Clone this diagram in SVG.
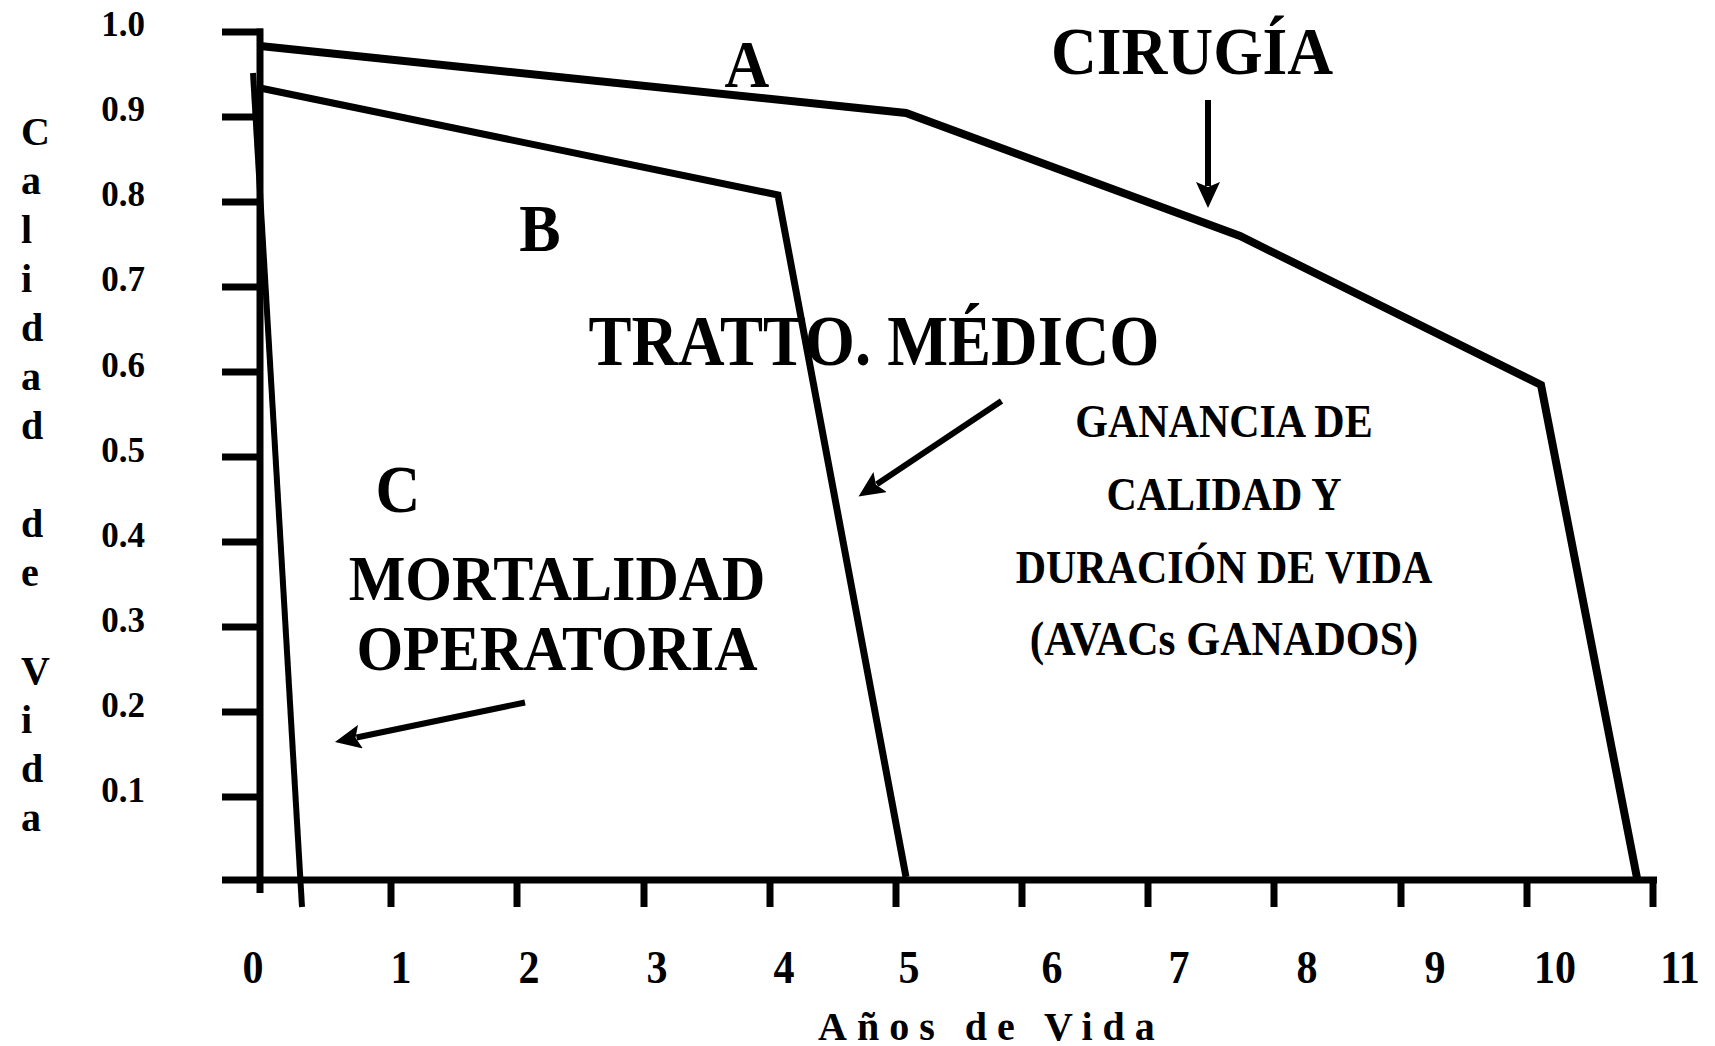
<svg xmlns="http://www.w3.org/2000/svg" width="1715" height="1046" viewBox="0 0 1715 1046">
<style>
text{font-family:"Liberation Serif","Times New Roman",serif;font-weight:bold;fill:#000}
.ax{stroke:#000;stroke-width:7;fill:none;stroke-linecap:butt}
.cv{stroke:#000;fill:none;stroke-linejoin:miter}
.arr{stroke:#000;stroke-width:6;fill:none}
.yl{font-size:35px;text-anchor:end}
.xl{font-size:42px;text-anchor:middle}
.big{font-size:62px;text-anchor:middle}
.mid{font-size:60px;text-anchor:middle}
.sm{font-size:42px;text-anchor:middle}
</style>
<defs>
<marker id="ah" markerUnits="userSpaceOnUse" viewBox="0 0 26 24" refX="4" refY="12" markerWidth="26" markerHeight="24" orient="auto">
<path d="M0,0 L26,12 L0,24 L5,12 z" fill="#000"/>
</marker>
</defs>
<g id="axes">
<line class="ax" x1="260" y1="28.5" x2="260" y2="893"/>
<line class="ax" x1="222" y1="880" x2="1657" y2="880"/>
<g id="yticks">
<line class="ax" x1="222" y1="32" x2="263" y2="32"/>
<line class="ax" x1="222" y1="117" x2="260" y2="117"/>
<line class="ax" x1="222" y1="202" x2="260" y2="202"/>
<line class="ax" x1="222" y1="287" x2="260" y2="287"/>
<line class="ax" x1="222" y1="372" x2="260" y2="372"/>
<line class="ax" x1="222" y1="457" x2="260" y2="457"/>
<line class="ax" x1="222" y1="542" x2="260" y2="542"/>
<line class="ax" x1="222" y1="627" x2="260" y2="627"/>
<line class="ax" x1="222" y1="712" x2="260" y2="712"/>
<line class="ax" x1="222" y1="797" x2="260" y2="797"/>
</g>
<g id="xticks">
<line class="ax" x1="391" y1="880" x2="391" y2="907"/>
<line class="ax" x1="517" y1="880" x2="517" y2="907"/>
<line class="ax" x1="644" y1="880" x2="644" y2="907"/>
<line class="ax" x1="770" y1="880" x2="770" y2="907"/>
<line class="ax" x1="896" y1="880" x2="896" y2="907"/>
<line class="ax" x1="1022" y1="880" x2="1022" y2="907"/>
<line class="ax" x1="1148" y1="880" x2="1148" y2="907"/>
<line class="ax" x1="1274" y1="880" x2="1274" y2="907"/>
<line class="ax" x1="1401" y1="880" x2="1401" y2="907"/>
<line class="ax" x1="1527" y1="880" x2="1527" y2="907"/>
<line class="ax" x1="1653" y1="880" x2="1653" y2="907"/>
</g>
<g id="ylabels">
<text class="yl" x="145" y="36">1.0</text>
<text class="yl" x="145" y="121">0.9</text>
<text class="yl" x="145" y="206">0.8</text>
<text class="yl" x="145" y="291">0.7</text>
<text class="yl" x="145" y="377">0.6</text>
<text class="yl" x="145" y="462">0.5</text>
<text class="yl" x="145" y="547">0.4</text>
<text class="yl" x="145" y="632">0.3</text>
<text class="yl" x="145" y="717">0.2</text>
<text class="yl" x="145" y="802">0.1</text>
</g>
<g id="xlabels">
<text class="xl" transform="translate(253,983) scale(1,1.08)">0</text>
<text class="xl" transform="translate(401,983) scale(1,1.08)">1</text>
<text class="xl" transform="translate(529,983) scale(1,1.08)">2</text>
<text class="xl" transform="translate(657,983) scale(1,1.08)">3</text>
<text class="xl" transform="translate(784,983) scale(1,1.08)">4</text>
<text class="xl" transform="translate(909,983) scale(1,1.08)">5</text>
<text class="xl" transform="translate(1052,983) scale(1,1.08)">6</text>
<text class="xl" transform="translate(1179,983) scale(1,1.08)">7</text>
<text class="xl" transform="translate(1307,983) scale(1,1.08)">8</text>
<text class="xl" transform="translate(1435,983) scale(1,1.08)">9</text>
<text class="xl" transform="translate(1555,983) scale(1,1.08)">10</text>
<text class="xl" transform="translate(1680,983) scale(1,1.08)">11</text>
</g>
<text id="ytitle" style="font-size:40px"><tspan x="21" y="145">C</tspan><tspan x="21" y="194">a</tspan><tspan x="21" y="243">l</tspan><tspan x="21" y="292">i</tspan><tspan x="21" y="341">d</tspan><tspan x="21" y="390">a</tspan><tspan x="21" y="439">d</tspan><tspan x="21" y="537">d</tspan><tspan x="21" y="586">e</tspan><tspan x="21" y="684">V</tspan><tspan x="21" y="733">i</tspan><tspan x="21" y="782">d</tspan><tspan x="21" y="831">a</tspan></text>
<text id="xtitle" x="818" y="1040" style="font-size:40px;letter-spacing:10px">Años de Vida</text>
</g>
<g id="curve-A">
<polyline class="cv" stroke-width="8" points="260,46 906,113 1240,236 1541,385 1637,878"/>
<text class="big" transform="translate(747,87) scale(1,1.08)">A</text>
</g>
<g id="curve-B">
<polyline class="cv" stroke-width="7" points="260,88 778,195 906,877"/>
<text class="big" transform="translate(540,251) scale(1,1.08)">B</text>
</g>
<g id="curve-C">
<line class="cv" stroke-width="6" x1="253" y1="73" x2="302" y2="907"/>
<text class="big" transform="translate(398,512) scale(1,1.08)">C</text>
</g>
<g id="label-cirugia">
<text class="big" transform="translate(1192,74) scale(1,1.06)" style="font-size:63.5px">CIRUGÍA</text>
</g>
<g id="label-tratto">
<text class="big" transform="translate(874,365) scale(1,1.1)" style="font-size:64.5px">TRATTO. MÉDICO</text>
</g>
<g id="label-mortalidad">
<text class="mid" transform="translate(557,600) scale(1,1.06)">MORTALIDAD</text>
<text class="mid" transform="translate(557,670) scale(1,1.06)">OPERATORIA</text>
</g>
<g id="label-ganancia">
<text class="sm" transform="translate(1224,437) scale(1,1.1)">GANANCIA DE</text>
<text class="sm" transform="translate(1224,510) scale(1,1.1)">CALIDAD Y</text>
<text class="sm" transform="translate(1224,583) scale(1,1.1)">DURACIÓN DE VIDA</text>
<text class="sm" transform="translate(1224,655) scale(1,1.1)" style="font-size:43.5px">(AVACs GANADOS)</text>
</g>
<g id="connectors">
<line class="arr" x1="1208" y1="100" x2="1208" y2="186" marker-end="url(#ah)"/>
<line class="arr" x1="1001.5" y1="401" x2="876.8" y2="484.3" marker-end="url(#ah)"/>
<line class="arr" x1="525" y1="702.5" x2="356.5" y2="737.5" marker-end="url(#ah)"/>
</g>
</svg>
